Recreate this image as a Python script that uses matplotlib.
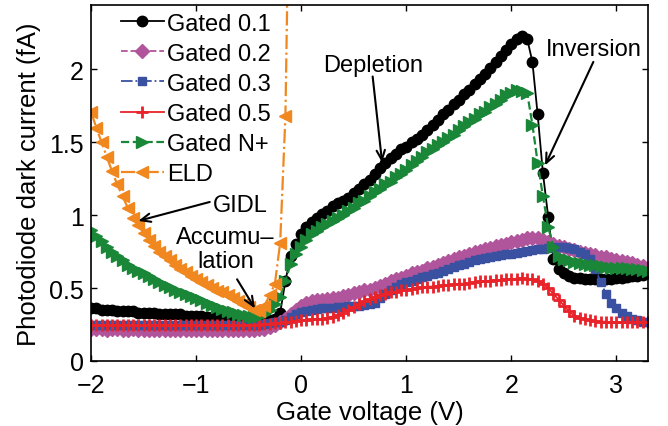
import matplotlib
matplotlib.use("Agg")
import matplotlib.pyplot as plt

plt.rcParams['font.family'] = ['Liberation Sans', 'DejaVu Sans']

# Gate voltage sweep (V)
gate_v = [-2.00, -1.95, -1.90, -1.85, -1.80, -1.75, -1.70, -1.65, -1.60, -1.55,
          -1.50, -1.45, -1.40, -1.35, -1.30, -1.25, -1.20, -1.15, -1.10, -1.05,
          -1.00, -0.95, -0.90, -0.85, -0.80, -0.75, -0.70, -0.65, -0.60, -0.55,
          -0.50, -0.45, -0.40, -0.35, -0.30, -0.25, -0.20, -0.15, -0.10, -0.05,
          0.00, 0.05, 0.10, 0.15, 0.20, 0.25, 0.30, 0.35, 0.40, 0.45,
          0.50, 0.55, 0.60, 0.65, 0.70, 0.75, 0.80, 0.85, 0.90, 0.95,
          1.00, 1.05, 1.10, 1.15, 1.20, 1.25, 1.30, 1.35, 1.40, 1.45,
          1.50, 1.55, 1.60, 1.65, 1.70, 1.75, 1.80, 1.85, 1.90, 1.95,
          2.00, 2.05, 2.10, 2.15, 2.20, 2.25, 2.30, 2.35, 2.40, 2.45,
          2.50, 2.55, 2.60, 2.65, 2.70, 2.75, 2.80, 2.85, 2.90, 2.95,
          3.00, 3.05, 3.10, 3.15, 3.20, 3.25, 3.30]

# Photodiode dark current (fA)
gated_01 = [0.36, 0.36, 0.35, 0.35, 0.35, 0.34, 0.34, 0.34, 0.34, 0.33,
            0.33, 0.33, 0.33, 0.32, 0.32, 0.32, 0.32, 0.32, 0.31, 0.31,
            0.31, 0.31, 0.30, 0.30, 0.30, 0.30, 0.29, 0.29, 0.29, 0.29,
            0.28, 0.28, 0.28, 0.28, 0.28, 0.29, 0.33, 0.55, 0.72, 0.80,
            0.87, 0.92, 0.95, 0.98, 1.01, 1.03, 1.06, 1.08, 1.10, 1.12,
            1.15, 1.18, 1.21, 1.24, 1.28, 1.32, 1.36, 1.39, 1.42, 1.45,
            1.47, 1.50, 1.52, 1.55, 1.58, 1.62, 1.65, 1.69, 1.72, 1.76,
            1.79, 1.83, 1.86, 1.90, 1.93, 1.97, 2.01, 2.05, 2.09, 2.13,
            2.17, 2.21, 2.23, 2.21, 2.05, 1.69, 1.29, 0.99, 0.70, 0.63,
            0.60, 0.58, 0.57, 0.57, 0.565, 0.56, 0.56, 0.56, 0.565, 0.565,
            0.57, 0.57, 0.575, 0.58, 0.585, 0.59, 0.60]

gated_02 = [0.22, 0.22, 0.22, 0.21, 0.22, 0.22, 0.21, 0.21, 0.22, 0.21,
            0.21, 0.21, 0.21, 0.21, 0.21, 0.21, 0.21, 0.21, 0.21, 0.21,
            0.21, 0.21, 0.21, 0.21, 0.21, 0.21, 0.21, 0.21, 0.21, 0.21,
            0.21, 0.21, 0.22, 0.22, 0.23, 0.25, 0.27, 0.29, 0.32, 0.35,
            0.38, 0.40, 0.41, 0.415, 0.42, 0.425, 0.43, 0.435, 0.445, 0.455,
            0.465, 0.475, 0.485, 0.49, 0.50, 0.515, 0.53, 0.545, 0.56, 0.57,
            0.585, 0.60, 0.61, 0.62, 0.635, 0.645, 0.66, 0.67, 0.685, 0.70,
            0.71, 0.72, 0.735, 0.745, 0.755, 0.765, 0.775, 0.785, 0.795, 0.805,
            0.815, 0.82, 0.83, 0.84, 0.845, 0.84, 0.83, 0.815, 0.80, 0.79,
            0.78, 0.77, 0.76, 0.75, 0.74, 0.735, 0.725, 0.715, 0.71, 0.70,
            0.695, 0.685, 0.68, 0.67, 0.66, 0.65, 0.64]

gated_03 = [0.25, 0.25, 0.245, 0.25, 0.25, 0.245, 0.25, 0.25, 0.245, 0.25,
            0.25, 0.245, 0.25, 0.25, 0.245, 0.25, 0.25, 0.245, 0.25, 0.25,
            0.245, 0.25, 0.25, 0.245, 0.25, 0.25, 0.245, 0.25, 0.25, 0.245,
            0.25, 0.25, 0.25, 0.255, 0.26, 0.265, 0.27, 0.28, 0.30, 0.32,
            0.335, 0.345, 0.35, 0.355, 0.36, 0.36, 0.365, 0.37, 0.37, 0.375,
            0.375, 0.38, 0.385, 0.39, 0.40, 0.43, 0.46, 0.49, 0.51, 0.525,
            0.54, 0.55, 0.565, 0.575, 0.585, 0.595, 0.605, 0.62, 0.63, 0.645,
            0.655, 0.665, 0.68, 0.69, 0.70, 0.705, 0.715, 0.72, 0.725, 0.73,
            0.735, 0.74, 0.75, 0.755, 0.76, 0.765, 0.77, 0.775, 0.78, 0.78,
            0.78, 0.775, 0.77, 0.75, 0.73, 0.70, 0.63, 0.54, 0.46, 0.40,
            0.36, 0.33, 0.31, 0.29, 0.28, 0.27, 0.265]

gated_05 = [0.245, 0.245, 0.245, 0.245, 0.245, 0.245, 0.245, 0.245, 0.245, 0.245,
            0.245, 0.245, 0.245, 0.245, 0.245, 0.245, 0.245, 0.245, 0.245, 0.245,
            0.245, 0.245, 0.245, 0.245, 0.245, 0.245, 0.245, 0.245, 0.245, 0.245,
            0.245, 0.25, 0.25, 0.255, 0.255, 0.26, 0.26, 0.265, 0.27, 0.275,
            0.28, 0.28, 0.285, 0.285, 0.29, 0.295, 0.305, 0.315, 0.33, 0.35,
            0.37, 0.39, 0.41, 0.425, 0.44, 0.45, 0.46, 0.47, 0.475, 0.485,
            0.49, 0.495, 0.50, 0.505, 0.51, 0.51, 0.515, 0.52, 0.52, 0.525,
            0.53, 0.53, 0.535, 0.54, 0.545, 0.545, 0.55, 0.555, 0.555, 0.56,
            0.56, 0.565, 0.57, 0.565, 0.56, 0.545, 0.53, 0.50, 0.46, 0.42,
            0.38, 0.34, 0.31, 0.295, 0.285, 0.28, 0.275, 0.27, 0.27, 0.265,
            0.265, 0.265, 0.265, 0.265, 0.265, 0.265, 0.265]

gated_np = [0.90, 0.86, 0.82, 0.78, 0.75, 0.72, 0.69, 0.66, 0.64, 0.62,
            0.60, 0.58, 0.56, 0.54, 0.52, 0.505, 0.49, 0.475, 0.46, 0.445,
            0.43, 0.415, 0.40, 0.385, 0.37, 0.355, 0.345, 0.335, 0.325, 0.315,
            0.31, 0.305, 0.31, 0.32, 0.35, 0.39, 0.44, 0.55, 0.665, 0.73,
            0.78, 0.83, 0.87, 0.89, 0.92, 0.94, 0.96, 0.98, 1.00, 1.03,
            1.05, 1.08, 1.10, 1.13, 1.16, 1.18, 1.21, 1.23, 1.26, 1.28,
            1.31, 1.34, 1.37, 1.40, 1.43, 1.45, 1.48, 1.50, 1.53, 1.55,
            1.58, 1.61, 1.64, 1.66, 1.69, 1.71, 1.74, 1.76, 1.79, 1.82,
            1.84, 1.86, 1.85, 1.84, 1.62, 1.36, 1.13, 0.92, 0.78, 0.72,
            0.70, 0.69, 0.68, 0.67, 0.665, 0.66, 0.655, 0.65, 0.645, 0.64,
            0.64, 0.635, 0.635, 0.63, 0.63, 0.625, 0.62]

# ELD sweep stops once the current leaves the plotted range
eld_v = gate_v[:39]
eld = [1.71, 1.60, 1.50, 1.40, 1.30, 1.21, 1.13, 1.05, 0.98, 0.93,
       0.88, 0.83, 0.79, 0.75, 0.72, 0.69, 0.66, 0.63, 0.61, 0.58,
       0.56, 0.54, 0.52, 0.50, 0.48, 0.47, 0.45, 0.43, 0.41, 0.39,
       0.37, 0.35, 0.34, 0.38, 0.45, 0.53, 0.81, 1.68, 4.00]

labels = ['Gated 0.1', 'Gated 0.2', 'Gated 0.3', 'Gated 0.5', 'Gated N+', 'ELD']

fig = plt.figure(figsize=(6.68, 4.27), dpi=100)
ax = fig.add_axes([91 / 668, 65 / 427, 557 / 668, 356 / 427])

ax.plot(gate_v, gated_01, color='black', ls='-', lw=1.3, marker='o', ms=7.5,
        mfc='black', mec='black', label=labels[0])
ax.plot(gate_v, gated_02, color='#b0559b', ls='--', lw=1.3, marker='D', ms=7.5,
        mfc='#b0559b', mec='#b0559b', label=labels[1])
ax.plot(gate_v, gated_03, color='#3a50a0', ls='-.', lw=1.3, marker='s', ms=6.2,
        mfc='#3a50a0', mec='#3a50a0', label=labels[2])
ax.plot(gate_v, gated_05, color='#e8232a', ls='-', lw=1.3, marker='+', ms=8.5,
        mew=2.0, label=labels[3])
ax.plot(gate_v, gated_np, color='#198737', ls='--', lw=1.6, marker='>', ms=9,
        mfc='#198737', mec='#198737', label=labels[4])
ax.plot(eld_v, eld, color='#f0871f', ls='-.', lw=1.6, marker='<', ms=9,
        mfc='#f0871f', mec='#f0871f', label=labels[5])

ax.set_xlim(-2, 3.3)
ax.set_ylim(0, 2.44)
ax.set_xticks([-2, -1, 0, 1, 2, 3])
ax.set_yticks([0, 0.5, 1, 1.5, 2])
ax.set_yticklabels(['0', '0.5', '1', '1.5', '2'])
ax.tick_params(direction='in', length=4, width=1.0, top=True, right=True,
               labelsize=18)
ax.tick_params(axis='x', pad=8.5)
ax.tick_params(axis='y', pad=5)
for sp in ax.spines.values():
    sp.set_linewidth(1.2)

ax.set_xlabel('Gate voltage (V)', fontsize=18.5, labelpad=2.5)
ax.set_ylabel('Photodiode dark current (fA)', fontsize=18.5, labelpad=6)

leg = ax.legend(loc='upper left', bbox_to_anchor=(0.05, 0.985), frameon=False,
                fontsize=17, handlelength=1.8, handletextpad=0.15,
                labelspacing=0.34, borderaxespad=0.0, borderpad=0.1)

arrow = dict(arrowstyle='->,head_length=0.7,head_width=0.3', color='black', lw=1.5,
             shrinkA=0, shrinkB=0)
ann_fs = 17

ax.text(-0.58, 1.07, 'GIDL', fontsize=ann_fs, ha='center', va='center')
ax.annotate('', xy=(-1.55, 0.96), xytext=(-0.87, 1.09), arrowprops=arrow)

ax.text(-0.72, 0.77, 'Accumu\u2013\nlation', fontsize=ann_fs, ha='center',
        va='center', linespacing=1.1)
ax.annotate('', xy=(-0.44, 0.36), xytext=(-0.61, 0.56), arrowprops=arrow)

ax.text(0.68, 2.03, 'Depletion', fontsize=ann_fs, ha='center', va='center')
ax.annotate('', xy=(0.77, 1.36), xytext=(0.68, 1.95), arrowprops=arrow)

ax.text(2.78, 2.14, 'Inversion', fontsize=ann_fs, ha='center', va='center')
ax.annotate('', xy=(2.32, 1.34), xytext=(2.78, 2.05), arrowprops=arrow)

fig.savefig('out.png', dpi=100)
